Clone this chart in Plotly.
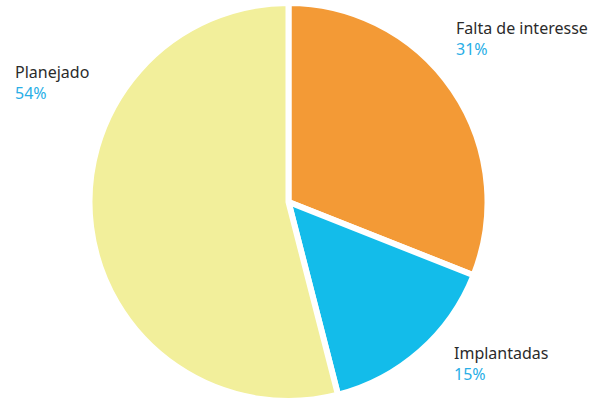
import plotly.graph_objects as go

labels = ["Falta de interesse", "Implantadas", "Planejado"]
values = [31, 15, 54]
colors = ["#F39A36", "#13BCEA", "#F2EF9B"]

W, H = 591, 401
cx, cy, r = 288.5, 202, 199

fig = go.Figure(go.Pie(
    labels=labels, values=values, sort=False, direction="clockwise", rotation=0,
    marker=dict(colors=colors, line=dict(color="white", width=6)),
    textinfo="none", hoverinfo="label+percent", showlegend=False,
    domain=dict(x=[(cx - r) / W, (cx + r) / W],
                y=[max(0, 1 - (cy + r) / H), min(1, 1 - (cy - r) / H)]),
))

label_pos = {"Falta de interesse": (454, 15), "Implantadas": (452, 340), "Planejado": (13, 59)}
for lab, val in zip(labels, values):
    x, y = label_pos[lab]
    fig.add_annotation(
        x=x / W, y=1 - y / H, xref="paper", yref="paper", xanchor="left", yanchor="top",
        align="left", showarrow=False,
        text=f"<span style='color:#2b2b2b'>{lab}</span><br><span style='color:#29AEE6'>{val}%</span>",
        font=dict(family="Noto Sans", size=16),
    )

fig.update_layout(width=W, height=H, margin=dict(l=0, r=0, t=0, b=0),
                  paper_bgcolor="white", plot_bgcolor="white")
fig.write_html("out.html")
